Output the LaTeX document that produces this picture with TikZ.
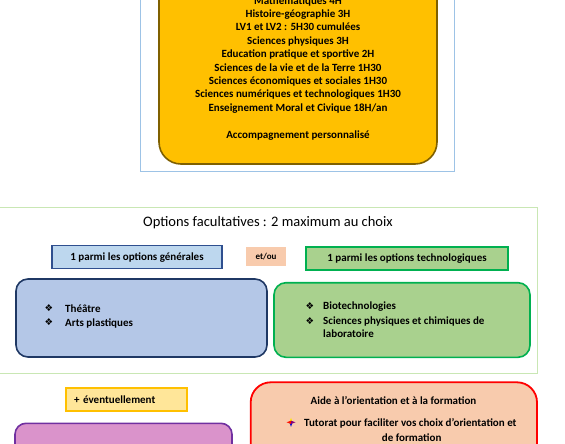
\documentclass[tikz,border=0pt]{standalone}
\usepackage{fontspec}
\setmainfont{Carlito}
\newfontfamily\dejavu{DejaVu Sans}
\definecolor{orfill}{HTML}{FFC000}
\definecolor{ordraw}{HTML}{7F6000}
\definecolor{frblue}{HTML}{9DC3E6}
\definecolor{frgreen}{HTML}{C9E7B4}
\definecolor{bluefill}{HTML}{BDD7EE}
\definecolor{bluedraw}{HTML}{2F4F8F}
\definecolor{bigblue}{HTML}{B4C7E7}
\definecolor{navy}{HTML}{1F3864}
\definecolor{peach}{HTML}{F8CBAD}
\definecolor{grfill}{HTML}{A9D18E}
\definecolor{grdraw}{HTML}{00B050}
\definecolor{yelfill}{HTML}{FFE699}
\definecolor{purfill}{HTML}{DA93CB}
\definecolor{purdraw}{HTML}{7030A0}
\tikzset{
  txt/.style={font=\fontsize{11}{13}\selectfont\bfseries, inner sep=0pt, anchor=base},
  txtl/.style={txt, anchor=base west},
  bul/.style={font=\dejavu\fontsize{9.5}{10}\selectfont, inner sep=0pt, anchor=base},
  smallbox/.style={font=\fontsize{11}{13}\selectfont\bfseries, inner sep=0pt, line width=1.3pt}
}
\begin{document}
\begin{tikzpicture}[x=1pt,y=-1pt]
\useasboundingbox (0,0) rectangle (565,444);
\clip (0,0) rectangle (565,444);
% top section
\draw[frblue, line width=1pt] (140,-20) rectangle (454,171);
\draw[fill=orfill, draw=ordraw, line width=1.6pt, rounded corners=22pt] (159,-60) rectangle (437,164);
\foreach \t/\y [count=\i] in {{Mathématiques 4H}/0.5, {Histoire-géographie 3H}/14, {LV1 et LV2 : 5H30 cumulées}/26.7, {Sciences physiques 3H}/40.5, {Education pratique et sportive 2H}/53.5, {Sciences de la vie et de la Terre 1H30}/67.2, {Sciences économiques et sociales 1H30}/80.6, {Sciences numériques et technologiques 1H30}/94.2, {Enseignement Moral et Civique 18H/an}/107.6, {Accompagnement personnalisé}/134.8}
  \node[txt] (top\i) at (298,\y+3.8) {\t};
% options section
\draw[frgreen, line width=1pt] (-5,207) rectangle (537,373);
\node[font=\fontsize{14.5}{17}\selectfont, inner sep=0pt] (title) at (268,223) {Options facultatives : 2 maximum au choix};
\node[smallbox, draw=bluedraw, fill=bluefill, minimum width=170pt, minimum height=23pt] (gen) at (137,257.3) {1 parmi les options générales};
\node[font=\fontsize{9}{10}\selectfont\bfseries, inner sep=0pt, fill=peach, minimum width=40pt, minimum height=19pt] (etou) at (266,256.3) {et/ou};
\node[smallbox, draw=grdraw, fill=grfill, minimum width=202pt, minimum height=23pt] (tech) at (407,258.5) {1 parmi les options technologiques};
\draw[navy, fill=bigblue, line width=1.6pt, rounded corners=12pt] (16,279) rectangle (267,357);
\draw[grdraw, fill=grfill, line width=1.6pt, rounded corners=12pt] (274,282.7) rectangle (530,357.3);
\node[bul] (b1) at (49,311.6) {❖};
\node[txtl] (o1) at (65,312.1) {Théâtre};
\node[bul] (b2) at (49,325.6) {❖};
\node[txtl] (o2) at (65,326.1) {Arts plastiques};
\node[bul] (b3) at (310,309.3) {❖};
\node[txtl] (o3) at (323,309.8) {Biotechnologies};
\node[bul] (b4) at (310,324.3) {❖};
\node[txtl] (o4) at (323,324.8) {Sciences physiques et chimiques de};
\node[txtl] (o5) at (323,337.1) {laboratoire};
% bottom section
\node[font=\fontsize{11}{13}\selectfont\bfseries, inner sep=0pt, draw=orfill, fill=yelfill, line width=1.4pt, minimum width=121pt, minimum height=23pt, text width=105pt, align=left] (ev) at (126.5,399.3) {+ éventuellement};
\draw[purdraw, fill=purfill, line width=1.6pt, rounded corners=11pt] (15,423.3) rectangle (232,480);
\draw[red, fill=peach, line width=1.8pt, rounded corners=20pt] (250.7,382.3) rectangle (537,480);
\node[txt] (aide) at (393.5,404.5) {Aide à l’orientation et à la formation};
\fill[yellow!90!orange] (291,417.8) -- (289.4,422.3) -- (292.6,422.3) -- cycle;
\fill[blue!80!black] (291,426.8) -- (289.4,422.3) -- (292.6,422.3) -- cycle;
\fill[red!85!orange] (286.5,422.3) -- (291,420.7) -- (291,423.9) -- cycle;
\fill[purple!70!blue] (295.5,422.3) -- (291,420.7) -- (291,423.9) -- cycle;
\node[txtl] (tut) at (304,426.1) {Tutorat pour faciliter vos choix d’orientation et};
\node[txt] (tut2) at (411.7,441.3) {de formation};
\end{tikzpicture}
\end{document}
